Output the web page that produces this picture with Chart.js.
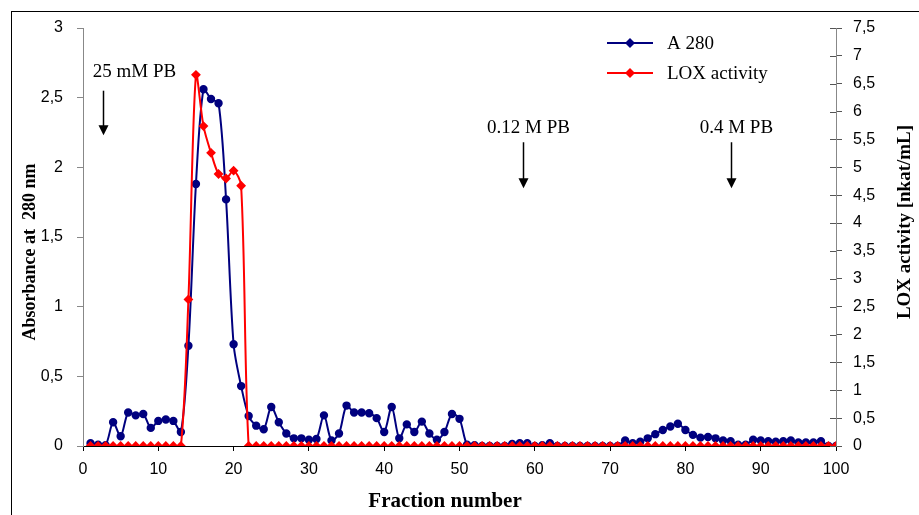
<!DOCTYPE html>
<html>
<head>
<meta charset="utf-8">
<script src="https://cdn.jsdelivr.net/npm/chart.js@4.4.1/dist/chart.umd.min.js"></script>
<style>
  html, body { margin: 0; padding: 0; background: #fff; }
  #wrap { width: 919px; height: 515px; }
</style>
</head>
<body>
<div id="wrap"><canvas id="elutionChart" width="919" height="515"></canvas></div>
<script>
// fraction numbers 1..100 (x categories)
var fractions = Array.from({ length: 100 }, function (_, i) { return i + 1; });

// absorbance at 280 nm, fractions 1..100
var a280 = [
  0.02, 0.01, 0.005, 0.17, 0.07, 0.24, 0.22, 0.23, 0.13, 0.18,
  0.19, 0.18, 0.10, 0.72, 1.88, 2.56, 2.49, 2.46, 1.77, 0.73,
  0.43, 0.215, 0.146, 0.12, 0.28, 0.17, 0.09, 0.055, 0.055, 0.045,
  0.05, 0.22, 0.04, 0.09, 0.29, 0.24, 0.24, 0.235, 0.20, 0.10,
  0.28, 0.055, 0.155, 0.10, 0.175, 0.09, 0.045, 0.10, 0.23, 0.195,
  0.01, 0.005, 0, 0, 0, 0, 0.015, 0.02, 0.02, 0,
  0.005, 0.02, 0, 0, 0, 0, 0, 0, 0, 0,
  0, 0.04, 0.02, 0.03, 0.055, 0.085, 0.115, 0.14, 0.16, 0.115,
  0.08, 0.06, 0.065, 0.055, 0.04, 0.035, 0.01, 0.01, 0.045, 0.04,
  0.035, 0.03, 0.035, 0.04, 0.025, 0.025, 0.025, 0.035, 0, 0
];

// LOX activity [nkat/mL], fractions 1..100
var loxActivity = [
  0, 0, 0, 0, 0, 0, 0, 0, 0, 0,
  0, 0, 0, 2.63, 6.66, 5.74, 5.26, 4.88, 4.80, 4.94,
  4.67, 0, 0, 0, 0, 0, 0, 0, 0, 0,
  0, 0, 0, 0, 0, 0, 0, 0, 0, 0,
  0, 0, 0, 0, 0, 0, 0, 0, 0, 0,
  0, 0, 0, 0, 0, 0, 0, 0, 0, 0,
  0, 0, 0, 0, 0, 0, 0, 0, 0, 0,
  0, 0, 0, 0, 0, 0, 0, 0, 0, 0,
  0, 0, 0, 0, 0, 0, 0, 0, 0, 0,
  0, 0, 0, 0, 0, 0, 0, 0, 0, 0
];

// buffer steps: label, fraction of arrow, label start fraction
var bufferLabels = ['25 mM PB', '0.12 M PB', '0.4 M PB'];
var bufferArrowAt = [2.6, 58.4, 86];
var bufferLabelAt = [1.3, 53.65, 81.9];
// arrow top / bottom and label baseline, in absorbance units
var bufferArrowTop = [2.55, 2.18, 2.18];
var bufferArrowBottom = [2.23, 1.85, 1.85];
var bufferLabelY = [2.65, 2.25, 2.25];

var serif = "'Liberation Serif', 'DejaVu Serif', serif";
var sans = "'Liberation Sans', Arial, sans-serif";

function comma(v) { return String(v).replace('.', ','); }

function rotatedText(c, text, x, y, font) {
  c.save();
  c.translate(x, y);
  c.rotate(-Math.PI / 2);
  c.textAlign = 'center';
  c.textBaseline = 'middle';
  c.fillStyle = '#000';
  c.font = font;
  c.fillText(text, 0, 0);
  c.restore();
}

var extras = {
  id: 'extras',
  afterDraw: function (chart) {
    var c = chart.ctx, xs = chart.scales.x, ys = chart.scales.y, y1 = chart.scales.y1;
    c.save();

    // inner half of the cross ticks on the right axis
    c.strokeStyle = '#555';
    c.lineWidth = 1;
    y1.ticks.forEach(function (t, i) {
      var py = Math.round(y1.getPixelForTick(i)) + 0.5;
      c.beginPath();
      c.moveTo(y1.left - 6, py);
      c.lineTo(y1.left, py);
      c.stroke();
    });

    // buffer step labels and arrows
    c.fillStyle = '#000';
    c.strokeStyle = '#000';
    c.font = '19px ' + serif;
    c.textAlign = 'left';
    c.textBaseline = 'alphabetic';
    bufferLabels.forEach(function (lab, i) {
      c.fillText(lab, xs.getPixelForValue(bufferLabelAt[i]), ys.getPixelForValue(bufferLabelY[i]));
      var ax = Math.round(xs.getPixelForValue(bufferArrowAt[i])) + 0.5;
      var top = ys.getPixelForValue(bufferArrowTop[i]);
      var bot = ys.getPixelForValue(bufferArrowBottom[i]);
      c.lineWidth = 1.5;
      c.beginPath();
      c.moveTo(ax, top);
      c.lineTo(ax, bot - 8);
      c.stroke();
      c.beginPath();
      c.moveTo(ax - 5, bot - 10);
      c.lineTo(ax + 5, bot - 10);
      c.lineTo(ax, bot);
      c.closePath();
      c.fill();
    });

    // legend
    var rows = [chart.data.datasets[0], chart.data.datasets[1]];
    rows.forEach(function (ds, i) {
      var ly = 43 + i * 30;
      c.strokeStyle = ds.borderColor;
      c.fillStyle = ds.pointBackgroundColor;
      c.lineWidth = 2;
      c.beginPath();
      c.moveTo(607, ly);
      c.lineTo(653, ly);
      c.stroke();
      c.beginPath();
      c.moveTo(630, ly - 5);
      c.lineTo(635, ly);
      c.lineTo(630, ly + 5);
      c.lineTo(625, ly);
      c.closePath();
      c.fill();
      c.fillStyle = '#000';
      c.font = '19px ' + serif;
      c.textBaseline = 'middle';
      c.fillText(ds.label, 667, ly + 1);
    });

    // axis titles
    c.fillStyle = '#000';
    c.font = 'bold 21px ' + serif;
    c.textAlign = 'center';
    c.textBaseline = 'alphabetic';
    c.fillText('Fraction number', 445, 507);
    rotatedText(c, 'Absorbance at  280 nm', 30, 252, 'bold 18px ' + serif);
    rotatedText(c, 'LOX activity [nkat/mL]', 905, 222, 'bold 19px ' + serif);

    // outer frame
    c.strokeStyle = '#000';
    c.lineWidth = 1;
    c.strokeRect(11.5, 11.5, 1000, 1000);
    c.restore();
  }
};

var ctx = document.getElementById('elutionChart');
var chart = new Chart(ctx, {
  type: 'line',
  data: {
    datasets: [
      {
        label: 'A 280',
        data: fractions.map(function (f, i) { return { x: f, y: a280[i] }; }),
        yAxisID: 'y',
        borderColor: '#00007f',
        backgroundColor: '#00007f',
        pointBackgroundColor: '#00007f',
        pointBorderColor: '#00007f',
        pointStyle: 'circle',
        pointRadius: 3.2,
        borderWidth: 2,
        tension: 0.3,
        order: 2
      },
      {
        label: 'LOX activity',
        data: fractions.map(function (f, i) { return { x: f, y: loxActivity[i] }; }),
        yAxisID: 'y1',
        borderColor: '#ff0000',
        backgroundColor: '#ff0000',
        pointBackgroundColor: '#ff0000',
        pointBorderColor: '#ff0000',
        pointStyle: 'rectRot',
        pointRadius: 3.5,
        borderWidth: 2,
        tension: 0.3,
        order: 1
      }
    ]
  },
  options: {
    responsive: false,
    animation: false,
    layout: { padding: { left: 0, right: 0, top: 28, bottom: 0 } },
    plugins: { legend: { display: false }, tooltip: { enabled: false } },
    scales: {
      x: {
        type: 'linear',
        min: 0,
        max: 100,
        ticks: { stepSize: 10, color: '#000', font: { family: sans, size: 16 }, padding: 9, maxRotation: 0 },
        grid: { drawOnChartArea: false, drawTicks: true, tickLength: 5, color: '#000' },
        border: { color: '#000', width: 1 },
        afterFit: function (s) { s.height = 69; }
      },
      y: {
        position: 'left',
        min: 0,
        max: 3,
        ticks: { stepSize: 0.5, color: '#000', font: { family: sans, size: 16 }, padding: 14, callback: comma },
        grid: { drawOnChartArea: false, drawTicks: true, tickLength: 6, color: '#888' },
        border: { color: '#888', width: 1 },
        afterFit: function (s) { s.width = 83; }
      },
      y1: {
        position: 'right',
        min: 0,
        max: 7.5,
        ticks: { stepSize: 0.5, color: '#000', font: { family: sans, size: 16 }, padding: 11, callback: comma },
        grid: { drawOnChartArea: false, drawTicks: true, tickLength: 6, color: '#555' },
        border: { color: '#888', width: 1 },
        afterFit: function (s) { s.width = 83; }
      }
    }
  },
  plugins: [extras]
});
</script>
</body>
</html>
